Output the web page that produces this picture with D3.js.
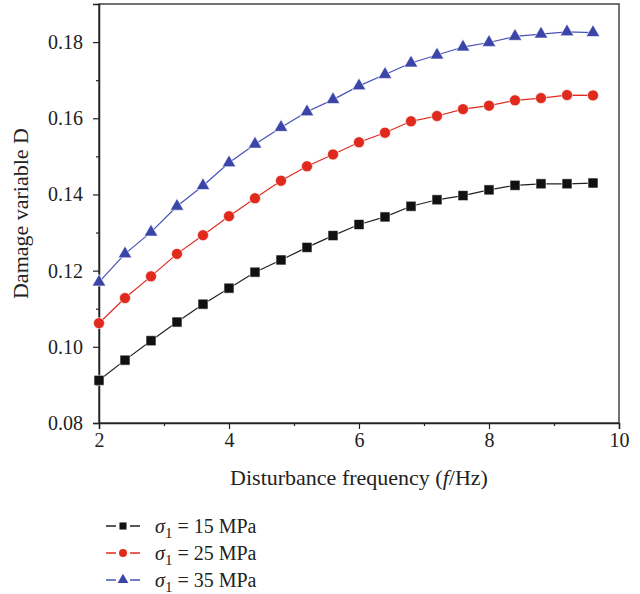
<!DOCTYPE html>
<html><head><meta charset="utf-8">
<script src="https://cdn.jsdelivr.net/npm/d3@7"></script>
<style>body{margin:0;background:#fff}svg{display:block}text{font-family:"Liberation Serif","Times New Roman",serif;fill:#222}</style>
</head><body><svg id="c" width="640" height="594"></svg>
<script>
const freq = [2,2.4,2.8,3.2,3.6,4,4.4,4.8,5.2,5.6,6,6.4,6.8,7.2,7.6,8,8.4,8.8,9.2,9.6];
const s15 = [0.0912,0.0965,0.1016,0.1065,0.1112,0.1154,0.1196,0.1228,0.1261,0.1292,0.1321,0.1341,0.1369,0.1386,0.1397,0.1412,0.1424,0.1428,0.1428,0.1430];
const s25 = [0.1062,0.1128,0.1185,0.1244,0.1293,0.1343,0.1390,0.1436,0.1474,0.1505,0.1537,0.1562,0.1592,0.1606,0.1624,0.1633,0.1647,0.1653,0.1661,0.1660];
const s35 = [0.1170,0.1244,0.1301,0.1369,0.1423,0.1483,0.1532,0.1576,0.1617,0.1649,0.1685,0.1715,0.1745,0.1766,0.1787,0.1799,0.1815,0.1821,0.1827,0.1825];
const seriesNames = ["15","25","35"];
const xTicks = [2,4,6,8,10];
const yTicks = [0.08,0.10,0.12,0.14,0.16,0.18];

const svg = d3.select("#c");
const L=99,R=619,T=4,B=423;
const x = d3.scaleLinear().domain([2,10]).range([L,R]);
const y = d3.scaleLinear().domain([0.08,0.19]).range([B,T]);

const series = [
 {name:seriesNames[0], vals:s15, color:"#111111", line:"#222222", sym:d3.symbolSquare, size:100},
 {name:seriesNames[1], vals:s25, color:"#e02a1e", line:"#e02a1e", sym:d3.symbolCircle, size:95},
 {name:seriesNames[2], vals:s35, color:"#3b45a8", line:"#4753b5", sym:d3.symbolTriangle, size:80}
];

// frame
svg.append("rect").attr("x",L).attr("y",T).attr("width",R-L).attr("height",B-T)
  .attr("fill","none").attr("stroke","#444").attr("stroke-width",1.5);

// axes
svg.append("g").attr("transform",`translate(0,${B})`)
  .call(d3.axisBottom(x).tickValues(xTicks).tickFormat(d3.format("d")).tickSize(6).tickPadding(4));
svg.append("g").attr("transform",`translate(0,${B})`)
  .call(d3.axisBottom(x).tickValues([3,5,7,9]).tickFormat("").tickSize(3))
  .call(g=>g.select(".domain").remove());
svg.append("g").attr("transform",`translate(${L},0)`)
  .call(d3.axisLeft(y).tickValues(yTicks).tickFormat(d3.format(".2f")).tickSize(6).tickPadding(10));
svg.append("g").attr("transform",`translate(${L},0)`)
  .call(d3.axisLeft(y).tickValues([0.09,0.11,0.13,0.15,0.17]).tickFormat("").tickSize(3))
  .call(g=>g.select(".domain").remove());
svg.selectAll(".domain").attr("stroke","#222").attr("stroke-width",1.5);
svg.selectAll(".tick line").attr("stroke","#222").attr("stroke-width",1.2);
svg.selectAll(".tick text").style("font-family","'Liberation Serif',serif").style("font-size","20px").attr("fill","#222");

// axis titles
svg.append("text").attr("x",(L+R)/2).attr("y",485).attr("text-anchor","middle")
  .style("font-size","22px").html('Disturbance frequency (<tspan font-style="italic">f</tspan>/Hz)');
svg.append("text").attr("transform",`translate(28,${(T+B)/2}) rotate(-90)`).attr("text-anchor","middle")
  .style("font-size","22px").text("Damage variable D");

// series
const line = d3.line().x((d,i)=>x(freq[i])).y(d=>y(d));
series.forEach(s=>{
  svg.append("path").datum(s.vals).attr("d",line).attr("fill","none")
    .attr("stroke",s.line).attr("stroke-width",1.2);
  svg.append("g").selectAll("path").data(s.vals).join("path")
    .attr("transform",(d,i)=>`translate(${x(freq[i])},${y(d)})`)
    .attr("d",d3.symbol().type(s.sym).size(s.size))
    .attr("fill",s.color).attr("stroke","#fff").attr("stroke-width",0.6);
});

// legend
series.forEach((s,i)=>{
  const yy = 526 + i*27;
  const g = svg.append("g");
  g.append("line").attr("x1",106).attr("x2",140).attr("y1",yy).attr("y2",yy).attr("stroke",s.line).attr("stroke-width",1.5);
  g.append("rect").attr("x",116).attr("y",yy-1).attr("width",14).attr("height",2).attr("fill","#fff");
  g.append("path").attr("transform",`translate(123,${yy})`).attr("d",d3.symbol().type(s.sym).size(50)).attr("fill",s.color);
  g.append("text").attr("x",155).attr("y",yy+7).style("font-size","20px")
    .html(`<tspan font-style="italic">σ</tspan><tspan dy="5" font-size="15px">1</tspan><tspan dy="-5"> = ${s.name} MPa</tspan>`);
});
</script></body></html>
